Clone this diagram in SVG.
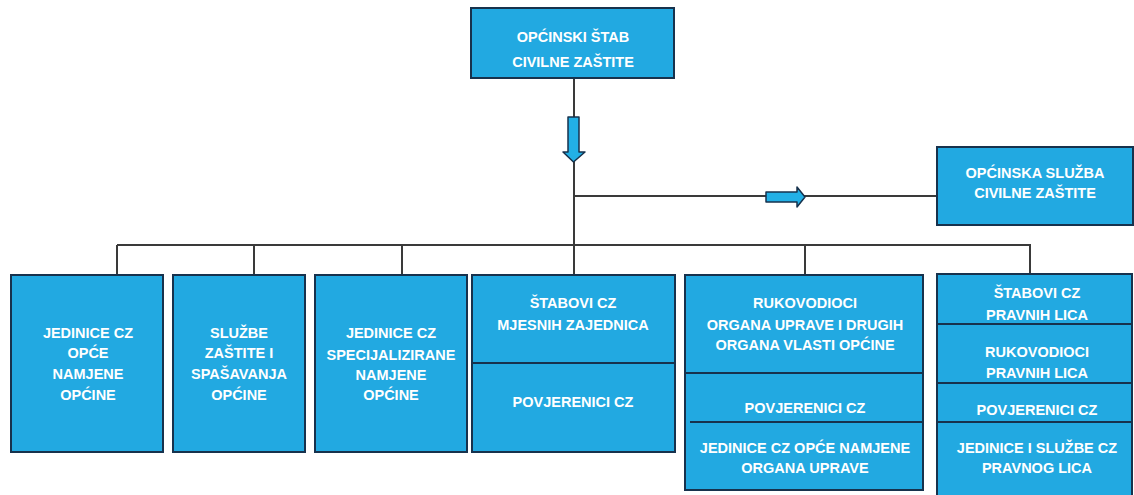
<svg xmlns="http://www.w3.org/2000/svg" width="1134" height="495" viewBox="0 0 1134 495">
<style>
.box{fill:#22a9e1;stroke:#17324d;stroke-width:2}
.div{stroke:#17324d;stroke-width:2}
.ln{fill:none;stroke:#3a3a3a;stroke-width:2}
.arr{fill:#22b0e6;stroke:#17324d;stroke-width:1.5;stroke-linejoin:round}
text{font-family:"Liberation Sans",Arial,sans-serif;font-weight:bold;font-size:14.5px;fill:#ffffff;text-anchor:middle}
</style>
<rect width="1134" height="495" fill="#ffffff"/>
<g id="connectors">
<path class="ln" d="M574,78 V275"/>
<path class="ln" d="M574,196 H937"/>
<path class="ln" d="M117,245 H1030 V274"/>
<path class="ln" d="M117,245 V275 M254,245 V275 M402,245 V275 M805,245 V275"/>
<path class="arr" d="M568,117 H579 V152 H585 L573.5,162 L563,152 H568 Z"/>
<path class="arr" d="M766,192 H797 V187 L805,197 L797,207 V202 H766 Z"/>
</g>
<g id="n-stab">
<rect class="box" x="471" y="8" width="203" height="70"/>
<text x="573" y="42">OPĆINSKI ŠTAB</text>
<text x="573" y="67">CIVILNE ZAŠTITE</text>
</g>
<g id="n-sluzba">
<rect class="box" x="937" y="147" width="196" height="78"/>
<text x="1035" y="178">OPĆINSKA SLUŽBA</text>
<text x="1035" y="198">CIVILNE ZAŠTITE</text>
</g>
<g id="n-jedinice-opce">
<rect class="box" x="11" y="275" width="152" height="177"/>
<text x="88" y="338">JEDINICE  CZ</text>
<text x="88" y="358">OPĆE</text>
<text x="88" y="379">NAMJENE</text>
<text x="88" y="400">OPĆINE</text>
</g>
<g id="n-sluzbe">
<rect class="box" x="173" y="275" width="132" height="177"/>
<text x="239" y="338">SLUŽBE</text>
<text x="239" y="358">ZAŠTITE I</text>
<text x="239" y="379">SPAŠAVANJA</text>
<text x="239" y="400">OPĆINE</text>
</g>
<g id="n-jedinice-spec">
<rect class="box" x="315" y="275" width="152" height="177"/>
<text x="391" y="338">JEDINICE CZ</text>
<text x="391" y="360">SPECIJALIZIRANE</text>
<text x="391" y="380">NAMJENE</text>
<text x="391" y="400">OPĆINE</text>
</g>
<g id="n-mz">
<rect class="box" x="472" y="275" width="203" height="177"/>
<line class="div" x1="472" y1="363" x2="675" y2="363"/>
<text x="573" y="308">ŠTABOVI CZ</text>
<text x="573" y="330">MJESNIH ZAJEDNICA</text>
<text x="573" y="407">POVJERENICI CZ</text>
</g>
<g id="n-organi">
<rect class="box" x="685" y="275" width="238" height="215"/>
<line class="div" x1="685" y1="373" x2="923" y2="373"/>
<line class="div" x1="690" y1="422" x2="923" y2="422"/>
<text x="805" y="308">RUKOVODIOCI</text>
<text x="805" y="330">ORGANA UPRAVE I DRUGIH</text>
<text x="805" y="350">ORGANA VLASTI OPĆINE</text>
<text x="805" y="413">POVJERENICI CZ</text>
<text x="805" y="453">JEDINICE  CZ OPĆE NAMJENE</text>
<text x="805" y="473">ORGANA UPRAVE</text>
</g>
<g id="n-pravna">
<rect class="box" x="937" y="274" width="195" height="225"/>
<line class="div" x1="937" y1="324" x2="1132" y2="324"/>
<line class="div" x1="937" y1="383" x2="1132" y2="383"/>
<line class="div" x1="937" y1="422" x2="1132" y2="422"/>
<text x="1037" y="298">ŠTABOVI CZ</text>
<text x="1037" y="320">PRAVNIH LICA</text>
<text x="1037" y="357">RUKOVODIOCI</text>
<text x="1037" y="378">PRAVNIH LICA</text>
<text x="1037" y="415">POVJERENICI CZ</text>
<text x="1037" y="453">JEDINICE  I SLUŽBE CZ</text>
<text x="1037" y="473">PRAVNOG LICA</text>
</g>
</svg>
